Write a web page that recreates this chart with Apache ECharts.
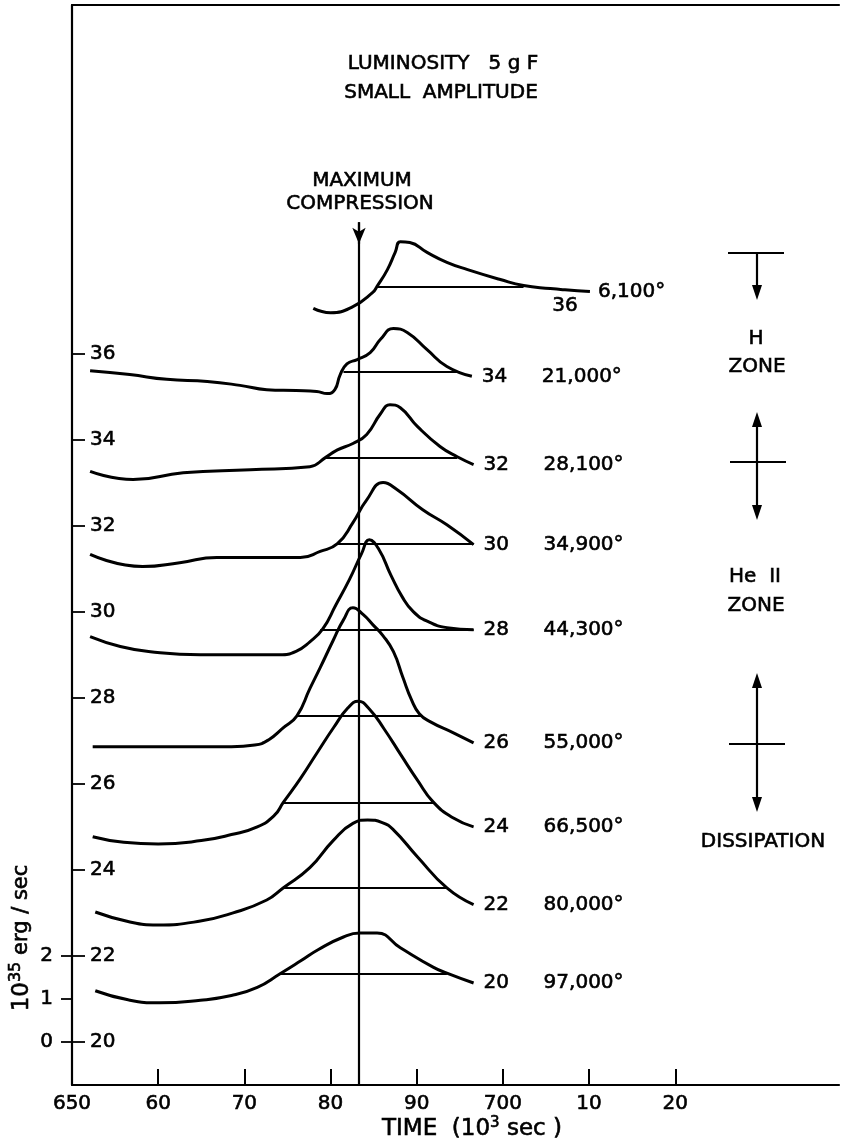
<!DOCTYPE html>
<html><head><meta charset="utf-8">
<script src="https://cdn.jsdelivr.net/npm/echarts@6/dist/echarts.min.js"></script>
<style>html,body{margin:0;padding:0;background:#fff}#c{width:841px;height:1147px}</style>
</head><body><div id="c"></div>
<script>
// ---- data (time in 10^3 s, luminosity in 10^35 erg/s relative to each zone's baseline) ----
const zones = [20, 22, 24, 26, 28, 30, 32, 34, 36];
const temps = ['97,000°', '80,000°', '66,500°', '55,000°', '44,300°', '34,900°', '28,100°', '21,000°', '6,100°'];

const lum20 = [[652.7,1.19],[656.5,0.98],[660.2,0.91],[664.9,0.97],[668.5,1.08],[671.5,1.27],[674.1,1.58],[676.5,1.88],[678.6,2.15],[681.5,2.44],[683.4,2.53],[685.4,2.53],[688.1,2.19],[691.9,1.74],[693.5,1.60],[696.6,1.37]];
const lum22 = [[652.7,1.02],[656.5,0.80],[659.9,0.72],[664.9,0.81],[668.7,1.00],[672.6,1.30],[674.5,1.58],[677.6,2.05],[680.3,2.68],[682.6,3.08],[684.3,3.16],[686.0,3.10],[687.3,2.93],[690.1,2.30],[693.5,1.58],[696.6,1.19]];
const lum24 = [[652.4,0.77],[656.0,0.64],[660.0,0.60],[665.0,0.68],[668.5,0.82],[671.5,1.00],[673.5,1.27],[674.5,1.56],[676.5,2.12],[678.5,2.74],[680.4,3.32],[682.0,3.76],[683.2,3.92],[684.5,3.74],[686.2,3.28],[688.2,2.66],[690.1,2.08],[691.9,1.58],[694.2,1.21],[696.6,1.00]];
const lum26 = [[652.4,0.86],[660.0,0.86],[668.5,0.86],[671.2,0.90],[672.8,1.02],[674.5,1.30],[676.1,1.58],[677.6,2.21],[678.8,2.70],[680.3,3.33],[681.5,3.81],[682.6,4.09],[683.8,3.93],[684.9,3.70],[686.1,3.44],[687.3,3.07],[688.4,2.47],[689.4,1.95],[690.3,1.63],[691.6,1.44],[694.2,1.19],[696.6,0.95]];
const lum28 = [[652.1,1.42],[655.6,1.19],[659.1,1.07],[664.9,1.00],[674.1,1.00],[676.0,1.08],[677.6,1.30],[679.1,1.60],[680.6,2.15],[682.2,2.75],[683.6,3.35],[684.5,3.67],[685.6,3.45],[687.0,2.85],[688.3,2.35],[689.6,2.00],[691.2,1.78],[693.5,1.63],[696.6,1.58]];
const lum30 = [[652.1,1.33],[658.2,1.05],[662.5,1.14],[666.8,1.26],[676.5,1.26],[678.8,1.40],[680.8,1.58],[682.6,2.07],[684.2,2.60],[686.1,3.00],[687.7,2.84],[690.7,2.37],[693.5,2.02],[696.6,1.56]];
const lum32 = [[652.1,1.26],[657.1,1.07],[662.9,1.23],[670.7,1.30],[677.6,1.37],[679.4,1.58],[680.8,1.76],[682.6,1.91],[684.2,2.12],[685.8,2.60],[686.9,2.81],[688.1,2.74],[690.1,2.30],[692.7,1.84],[694.7,1.60],[696.6,1.42]];
const lum34 = [[652.1,1.60],[656.7,1.51],[661.0,1.40],[665.7,1.35],[669.5,1.26],[672.6,1.16],[676.0,1.14],[678.4,1.12],[679.6,1.07],[680.5,1.16],[681.1,1.50],[681.9,1.76],[683.1,1.86],[684.6,2.02],[685.8,2.33],[687.3,2.58],[688.9,2.49],[691.2,2.09],[693.5,1.70],[696.4,1.47]];
const lum36 = [[678.0,1.05],[680.0,0.95],[682.6,1.09],[684.9,1.42],[685.4,1.56],[686.6,1.95],[687.5,2.35],[688.1,2.60],[689.2,2.58],[691.2,2.35],[693.5,2.12],[695.9,1.95],[699.7,1.72],[702.4,1.58],[705.5,1.51],[707.2,1.48],[710.1,1.44]];
const curves = [lum20, lum22, lum24, lum26, lum28, lum30, lum32, lum34, lum36];

// mean luminosity line of each zone (level and time span)
const meanLum   = [1.58, 1.58, 1.56, 1.58, 1.58, 1.58, 1.58, 1.58, 1.56];
const meanStart = [674.1, 674.5, 674.5, 676.1, 678.8, 680.8, 679.4, 681.5, 685.4];
const meanEnd   = [693.5, 693.5, 691.9, 690.5, 696.6, 696.6, 694.7, 695.0, 702.4];

const compressionTime = 683.3;
const xTickValues = [650, 660, 670, 680, 690, 700, 710, 720];
const xTickLabels = ['650', '60', '70', '80', '90', '700', '10', '20'];
const yZoneValues = [0, 2, 4, 6, 8, 10, 12, 14, 16];
const yZoneLabels = ['20', '22', '24', '26', '28', '30', '32', '34', '36'];
const yLumValues = [0, 1, 2];

// ---- chart ----
const FONT = 'DejaVu Sans';
const FS = 20;
const TB = 0.6; // slight text outline to mimic the heavy lettering
const chart = echarts.init(document.getElementById('c'), null, {renderer: 'canvas'});
const YMIN = -1, YMAX = 24.1, XMIN = 650, XMAX = 739;
const lbl = {color: '#000', fontFamily: FONT, fontSize: FS, textBorderColor: '#000', textBorderWidth: TB};

const series = zones.map((z, i) => {
  const off = z - 20;
  const last = i === zones.length - 1;
  const s = {
    type: 'line',
    name: 'zone' + z,
    data: curves[i].map(p => [p[0], p[1] + off]),
    smooth: 0.5,
    showSymbol: false,
    symbol: 'none',
    lineStyle: {color: '#000', width: 3},
    z: 3,
    endLabel: Object.assign({
      show: true,
      distance: last ? 8 : 10,
      formatter: last ? temps[i] : `{z|${z}}{t|${temps[i]}}`,
      rich: {
        z: Object.assign({width: 60}, lbl),
        t: Object.assign({}, lbl)
      }
    }, lbl),
    markLine: {
      silent: true, symbol: 'none', animation: false,
      label: {show: false},
      lineStyle: {color: '#000', width: 2, type: 'solid'},
      data: [[{coord: [meanStart[i], meanLum[i] + off]}, {coord: [meanEnd[i], meanLum[i] + off]}]]
    }
  };
  if (last) {
    const p = curves[i][15];
    s.markPoint = {
      silent: true, symbol: 'circle', symbolSize: 1,
      itemStyle: {color: 'rgba(0,0,0,0)'},
      label: Object.assign({show: true, position: 'bottom', distance: 5, formatter: String(z)}, lbl),
      data: [{coord: [p[0], p[1] + off]}]
    };
  }
  return s;
});

// maximum compression line with arrow
series.push({
  type: 'line', name: 'compression', data: [], showSymbol: false,
  markLine: {
    silent: true, animation: false,
    label: {show: false},
    lineStyle: {color: '#000', width: 2.2, type: 'solid'},
    symbolSize: [10, 16],
    data: [
      [{coord: [compressionTime, 19.05], symbol: 'none'}, {coord: [compressionTime, YMIN], symbol: 'none'}],
      [{coord: [compressionTime, 19.05], symbol: 'none'}, {coord: [compressionTime, 18.55], symbol: 'arrow'}]
    ]
  }
});

const txt = (x, y, text, size) => ({
  type: 'text', x, y,
  style: {text, fill: '#000', stroke: '#000', lineWidth: TB, font: `${size || FS}px "${FONT}"`, align: 'center', verticalAlign: 'middle'}
});
const seg = (x1, y1, x2, y2, w) => ({type: 'line', shape: {x1, y1, x2, y2}, style: {stroke: '#000', lineWidth: w || 2.2}});
const head = (x, y, dir) => ({type: 'polygon', shape: {points: dir > 0 ? [[x-5, y-15], [x+5, y-15], [x, y]] : [[x-5, y+15], [x+5, y+15], [x, y]]}, style: {fill: '#000'}});

const graphic = [
  txt(443, 64, 'LUMINOSITY   5 g F', 20),
  txt(441, 93, 'SMALL  AMPLITUDE', 20),
  txt(362, 181, 'MAXIMUM', 20),
  txt(360, 204, 'COMPRESSION', 20),
  // H zone marker
  seg(728, 253, 784, 253), seg(757, 253, 757, 290), head(757, 300, 1),
  txt(756, 339, 'H', FS), txt(757, 367, 'ZONE', FS),
  // He II zone marker
  seg(757, 420, 757, 512), head(757, 412, -1), head(757, 520, 1), seg(730, 462, 786, 462),
  txt(755, 577, 'He  II', FS), txt(756, 606, 'ZONE', FS),
  // dissipation marker
  seg(757, 681, 757, 804), head(757, 673, -1), head(757, 812, 1), seg(729, 744, 785, 744),
  txt(763, 842, 'DISSIPATION', FS),
  // axis names
  {type: 'text', x: 472, y: 1129, style: {
    text: '{a|TIME  (10}{s|3}{a| sec )}', align: 'center', verticalAlign: 'middle',
    rich: {a: {fontSize: 23, fontFamily: FONT, fill: '#000', stroke: '#000', lineWidth: TB}, s: {fontSize: 15, fontFamily: FONT, fill: '#000', stroke: '#000', lineWidth: TB, verticalAlign: 'top', padding: [0, 0, 12, 0]}}
  }},
  {type: 'text', x: 22, y: 938, rotation: Math.PI / 2, style: {
    text: '{a|10}{s|35}{b| erg / sec}', align: 'center', verticalAlign: 'middle',
    rich: {a: {fontSize: 23, fontFamily: FONT, fill: '#000', stroke: '#000', lineWidth: TB}, s: {fontSize: 16, fontFamily: FONT, fill: '#000', stroke: '#000', lineWidth: TB, padding: [0, 0, 12, 0]}, b: {fontSize: 21, fontFamily: FONT, fill: '#000', stroke: '#000', lineWidth: TB}}
  }}
];

chart.setOption({
  animation: false,
  backgroundColor: '#fff',
  grid: {left: 72, right: 2, top: 5, bottom: 62},
  xAxis: [{
    type: 'value', min: XMIN, max: XMAX, position: 'bottom',
    axisLine: {show: true, onZero: false, lineStyle: {color: '#000', width: 2.2}},
    axisTick: {show: true, inside: true, length: 16, customValues: xTickValues.slice(1), lineStyle: {color: '#000', width: 2}},
    axisLabel: Object.assign({show: true, margin: 9, customValues: xTickValues,
      formatter: v => { const k = xTickValues.indexOf(Math.round(v)); return k >= 0 ? xTickLabels[k] : ''; }}, lbl),
    splitLine: {show: false}
  }, {
    type: 'value', min: XMIN, max: XMAX, position: 'top',
    axisLine: {show: true, onZero: false, lineStyle: {color: '#000', width: 2.2}},
    axisTick: {show: false}, axisLabel: {show: false}, splitLine: {show: false}
  }],
  yAxis: [{
    type: 'value', min: YMIN, max: YMAX, position: 'left',
    axisLine: {show: true, onZero: false, lineStyle: {color: '#000', width: 2.2}},
    axisTick: {show: true, inside: true, length: 13, customValues: yZoneValues, lineStyle: {color: '#000', width: 1.8}},
    axisLabel: Object.assign({show: true, inside: true, margin: 18, customValues: yZoneValues,
      formatter: v => { const k = yZoneValues.indexOf(Math.round(v)); return k >= 0 ? yZoneLabels[k] : ''; }}, lbl),
    splitLine: {show: false}
  }, {
    type: 'value', min: YMIN, max: YMAX, position: 'left', offset: 0,
    axisLine: {show: false, onZero: false},
    axisTick: {show: true, inside: false, length: 11, customValues: yLumValues, lineStyle: {color: '#000', width: 1.8}},
    axisLabel: Object.assign({show: true, margin: 19, customValues: yLumValues}, lbl),
    splitLine: {show: false}
  }],
  series: series,
  graphic: graphic
});
</script>
</body></html>
